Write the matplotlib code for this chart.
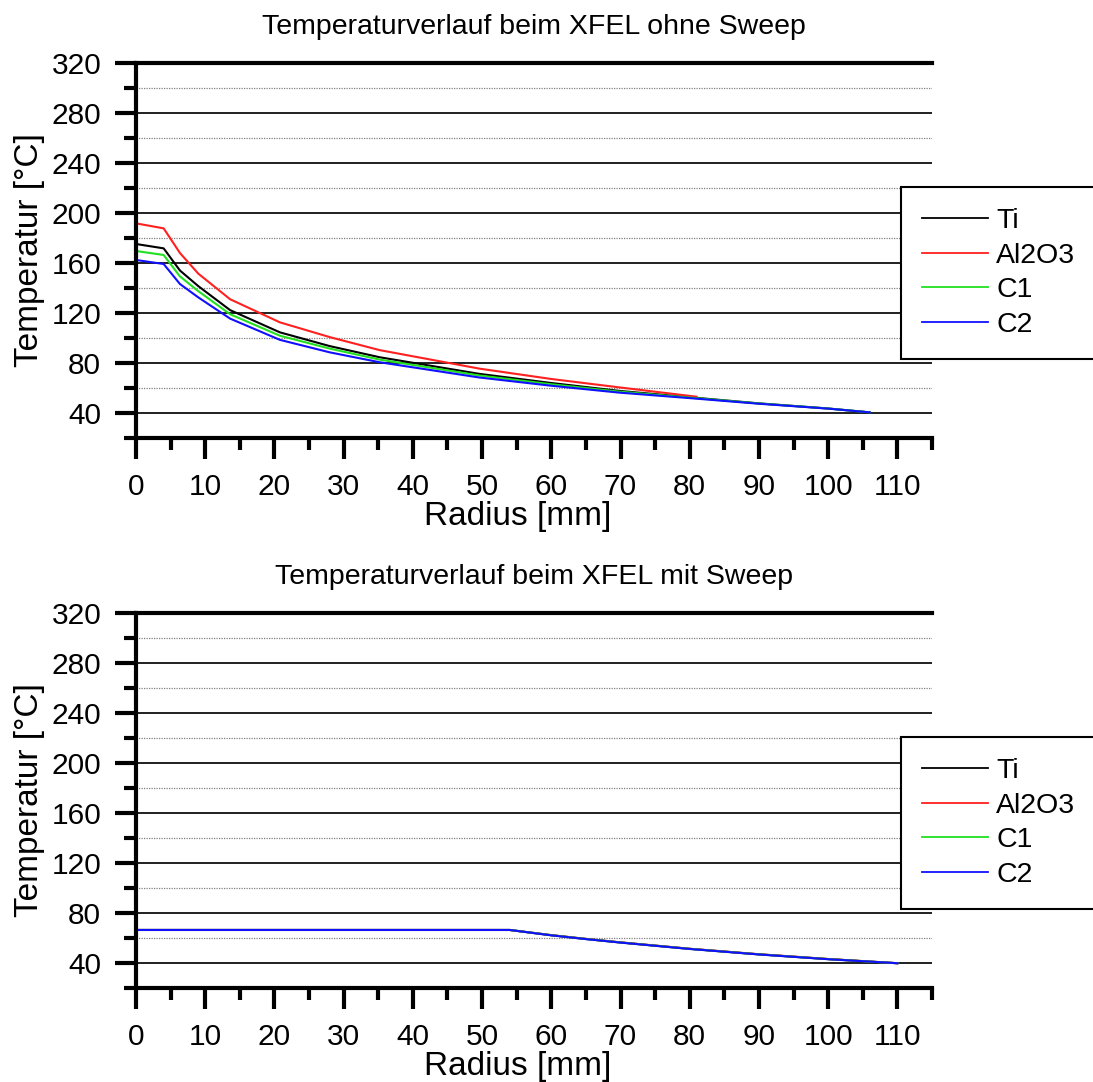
import numpy as np
import matplotlib.pyplot as plt
from matplotlib.ticker import MultipleLocator

plt.rcParams['font.family'] = ['Liberation Sans', 'DejaVu Sans']

# --- Temperaturverlauf ohne Sweep ---
r_top = [0, 4, 6.35, 9, 13.6, 20.8, 28, 35.2, 49.6, 60, 69.8, 80, 90, 100, 106]
ti_top = [175.2, 171.7, 154, 141.5, 122.3, 104.5, 93.5, 84.6, 71.3, 64, 57.7, 52.6, 47.7, 43.6, 40.5]
c1_top = [169.6, 166.4, 149.3, 137.5, 119, 101.8, 91.5, 82.7, 70.0, 63.0, 57.1, 52.3, 47.6, 43.6, 40.5]
c2_top = [162.4, 159.2, 143.2, 132.5, 115.5, 98.5, 88.5, 80.6, 68.4, 61.8, 56.3, 51.9, 47.4, 43.5, 40.5]
r_al_top = [0, 4, 6.35, 9, 13.6, 20.8, 28, 35.2, 49.6, 60, 69.8, 81]
al_top = [191.7, 187.7, 168, 151.5, 131, 112.5, 100.7, 90.3, 75.5, 67.2, 60.5, 53]

# --- Temperaturverlauf mit Sweep (alle Kurven fast deckungsgleich) ---
r_bot = [0, 54, 60, 65, 70, 80, 90, 100, 110]
ti_bot = [66.4, 66.4, 62.2, 59.2, 56.4, 51.3, 46.9, 43.1, 39.8]
al_bot = [66.4, 66.4, 62.3, 59.3, 56.5, 51.4, 47.0, 43.2, 39.8]
c1_bot = [66.4, 66.4, 62.2, 59.2, 56.4, 51.3, 46.9, 43.1, 39.8]
c2_bot = [66.4, 66.4, 62.1, 59.1, 56.3, 51.2, 46.8, 43.0, 39.8]

labels = ['Ti', 'Al2O3', 'C1', 'C2']
colors = ['black', '#ff2020', '#20e020', '#1010ff']


def style_axes(ax, title):
	ax.set_xlim(0, 115)
	ax.set_ylim(20, 320)
	ax.xaxis.set_major_locator(MultipleLocator(10))
	ax.xaxis.set_minor_locator(MultipleLocator(5))
	ax.yaxis.set_major_locator(MultipleLocator(40))
	ax.yaxis.set_minor_locator(MultipleLocator(20))
	ax.set_yticks(np.arange(40, 321, 40))
	ax.tick_params(which='major', direction='out', length=15, width=3, labelsize=21.5, pad=10)
	ax.tick_params(which='minor', direction='out', length=8.5, width=3)
	ax.grid(True, which='major', axis='y', color='#202020', lw=1.4, ls='-')
	ax.grid(True, which='minor', axis='y', color='#808080', lw=0.9, ls=(0, (1, 1)))
	ax.set_axisbelow(True)
	ax.spines['right'].set_visible(False)
	for s in ['left', 'bottom', 'top']:
		ax.spines[s].set_linewidth(3)
	ax.set_xlabel('Radius [mm]', fontsize=24, labelpad=-2)
	ax.xaxis.set_label_coords(0.479, -0.168)
	ax.set_ylabel('Temperatur [°C]', fontsize=24, labelpad=5)
	ax.set_title(title, fontsize=20.5, pad=21)


fig = plt.figure(figsize=(10.93, 10.82), dpi=100)
ax1 = fig.add_axes([0.1244, 0.5952, 0.7283, 0.3466])
ax2 = fig.add_axes([0.1244, 0.0869, 0.7283, 0.3466])

ax1.plot(r_top, ti_top, color=colors[0], lw=1.5, label=labels[0])
ax1.plot(r_al_top, al_top, color=colors[1], lw=1.5, label=labels[1])
ax1.plot(r_top, c1_top, color=colors[2], lw=1.5, label=labels[2])
ax1.plot(r_top, c2_top, color=colors[3], lw=1.5, label=labels[3])
style_axes(ax1, 'Temperaturverlauf beim XFEL ohne Sweep')

ax2.plot(r_bot, ti_bot, color=colors[0], lw=1.5, label=labels[0])
ax2.plot(r_bot, al_bot, color=colors[1], lw=1.5, label=labels[1])
ax2.plot(r_bot, c1_bot, color=colors[2], lw=1.5, label=labels[2])
ax2.plot(r_bot, c2_bot, color=colors[3], lw=1.5, label=labels[3])
style_axes(ax2, 'Temperaturverlauf beim XFEL mit Sweep')

for ax in [ax1, ax2]:
	leg = ax.legend(loc='upper left', bbox_to_anchor=(0.961, 0.670), fontsize=20.5,
		frameon=True, fancybox=False, edgecolor='black', framealpha=1,
		borderpad=0.75, handlelength=2.3, handletextpad=0.3, labelspacing=0.3,
		borderaxespad=0)
	for h in leg.get_lines():
		h.set_linewidth(1.3)
	leg.get_frame().set_linewidth(1.5)
	leg.set_clip_on(False)

plt.savefig('out.png', dpi=100)
